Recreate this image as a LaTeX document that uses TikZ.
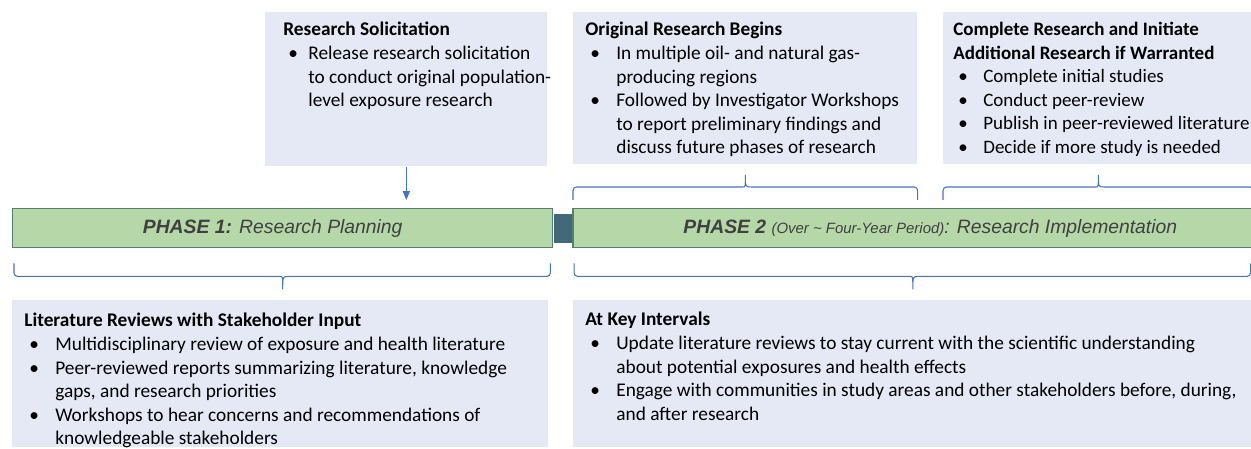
\documentclass[tikz,border=0pt]{standalone}
\usepackage{fontspec}
\setmainfont{Carlito}
\newfontfamily\arialfont{Liberation Sans}
\definecolor{boxblue}{RGB}{228,233,245}
\definecolor{phasegreen}{RGB}{182,216,168}
\definecolor{phaseedge}{RGB}{86,128,110}
\definecolor{linkteal}{RGB}{67,104,122}
\definecolor{braceblue}{RGB}{68,114,196}
\definecolor{phasetext}{RGB}{64,64,64}
\usepackage{tikz}
\usetikzlibrary{arrows.meta,positioning,calc}
\newcommand{\bul}[1][0.62cm]{\par\hangindent=#1\hangafter=1\noindent\makebox[#1][l]{\hspace{0.1cm}\textbullet}}
\tikzset{
  infobox/.style={fill=boxblue,inner sep=0pt,anchor=north west},
  boxtxt/.style={inner sep=0pt,anchor=north west,font=\fontsize{11}{13.4}\selectfont},
  phasebar/.style={fill=phasegreen,draw=phaseedge,line width=0.8pt,minimum height=0.78cm,inner sep=0pt,
    font=\arialfont\itshape\fontsize{11}{13}\selectfont,text=phasetext},
  linkbar/.style={fill=linkteal,minimum width=0.36cm,minimum height=0.58cm,inner sep=0pt},
  bracket/.style={braceblue,line width=0.6pt},
  arrowln/.style={braceblue,line width=0.6pt,-{Triangle[length=5pt,width=4pt]},shorten >=0.16cm},
}
\begin{document}
\begin{tikzpicture}
  \useasboundingbox (0,0) rectangle (25.02,8.98);
  % --- fazalar ---
  \node[phasebar,minimum width=10.8cm,anchor=north west] (ph1) at (0.24,4.82)
    {{\bfseries PHASE 1:} Research Planning\hspace*{0.4cm}};
  \node[linkbar,right=0pt of ph1] (link) {};
  \node[phasebar,minimum width=13.6cm,right=0pt of link] (ph2)
    {\hspace*{0.7cm}{\bfseries PHASE 2} {\fontsize{8.5}{10}\selectfont (Over \textasciitilde\ Four-Year Period)}: Research Implementation};
  % --- yuqori qutilar ---
  \node[infobox,minimum width=5.64cm,minimum height=3.08cm] (solic) at (5.30,8.74) {};
  \node[infobox,minimum width=6.88cm,minimum height=3.04cm] (orig) at (11.46,8.74) {};
  \node[infobox,minimum width=6.2cm,minimum height=3.04cm] (compl) at (18.86,8.74) {};
  \node[boxtxt] (solictxt) at ([xshift=0.36cm,yshift=-0.2cm]solic.north west)
    {\parbox[t]{6cm}{\raggedright\textbf{Research Solicitation}
      \bul[0.5cm]Release research solicitation\newline to conduct original population-\newline level exposure research}};
  \node[boxtxt] (origtxt) at ([xshift=0.24cm,yshift=-0.2cm]orig.north west)
    {\parbox[t]{7cm}{\raggedright\textbf{Original Research Begins}
      \bul In multiple oil- and natural gas-\newline producing regions
      \bul Followed by Investigator Workshops\newline to report preliminary findings and\newline discuss future phases of research}};
  \node[boxtxt,font=\fontsize{10.8}{13.4}\selectfont] (compltxt) at ([xshift=0.2cm,yshift=-0.2cm]compl.north west)
    {\parbox[t]{7cm}{\raggedright\textbf{Complete Research and Initiate\newline Additional Research if Warranted}
      \bul[0.6cm]Complete initial studies
      \bul[0.6cm]Conduct peer-review
      \bul[0.6cm]Publish in peer-reviewed literature
      \bul[0.6cm]Decide if more study is needed}};
  % --- pastki qutilar ---
  \node[infobox,minimum width=10.72cm,minimum height=2.94cm] (lit) at (0.24,2.98) {};
  \node[infobox,minimum width=13.6cm,minimum height=2.94cm] (keyint) at (11.46,2.98) {};
  \node[boxtxt] (littxt) at ([xshift=0.24cm,yshift=-0.26cm]lit.north west)
    {\parbox[t]{11cm}{\raggedright\textbf{Literature Reviews with Stakeholder Input}
      \bul Multidisciplinary review of exposure and health literature
      \bul Peer-reviewed reports summarizing literature, knowledge\newline gaps, and research priorities
      \bul Workshops to hear concerns and recommendations of\newline knowledgeable stakeholders}};
  \node[boxtxt] (keyinttxt) at ([xshift=0.24cm,yshift=-0.24cm]keyint.north west)
    {\parbox[t]{14cm}{\raggedright\textbf{At Key Intervals}
      \bul Update literature reviews to stay current with the scientific understanding\newline about potential exposures and health effects
      \bul Engage with communities in study areas and other stakeholders before, during,\newline and after research}};
  % strelka
  \draw[arrowln] (solic.south) -- (solic.south |- ph1.north);
  % qavslar: yuqorida
  \foreach \nd in {orig,compl}{
    \draw[bracket] let \p1=(\nd.south west), \p2=(\nd.south east), \p3=(ph2.north), \p4=(\nd.south) in
      (\x1,{\y3+0.16cm}) [rounded corners=2pt] -- (\x1,{\y3+0.42cm}) -- ({\x4-0.12cm},{\y3+0.42cm})
      [sharp corners] .. controls (\x4,{\y3+0.42cm}) .. (\x4,{\y3+0.66cm})
      .. controls (\x4,{\y3+0.42cm}) .. ({\x4+0.12cm},{\y3+0.42cm})
      [rounded corners=2pt] -- (\x2,{\y3+0.42cm}) -- (\x2,{\y3+0.16cm});
  }
  % qavslar: pastda
  \foreach \nd in {ph1,ph2}{
    \draw[bracket] let \p1=(\nd.south west), \p2=(\nd.south east), \p4=(\nd.south) in
      ({\x1+0.04cm},{\y1-0.3cm}) [rounded corners=2pt] -- ({\x1+0.04cm},{\y1-0.56cm}) -- ({\x4-0.12cm},{\y1-0.56cm})
      [sharp corners] .. controls (\x4,{\y1-0.56cm}) .. (\x4,{\y1-0.82cm})
      .. controls (\x4,{\y1-0.56cm}) .. ({\x4+0.12cm},{\y1-0.56cm})
      [rounded corners=2pt] -- ({\x2-0.06cm},{\y1-0.56cm}) -- ({\x2-0.06cm},{\y1-0.3cm});
  }
\end{tikzpicture}
\end{document}
